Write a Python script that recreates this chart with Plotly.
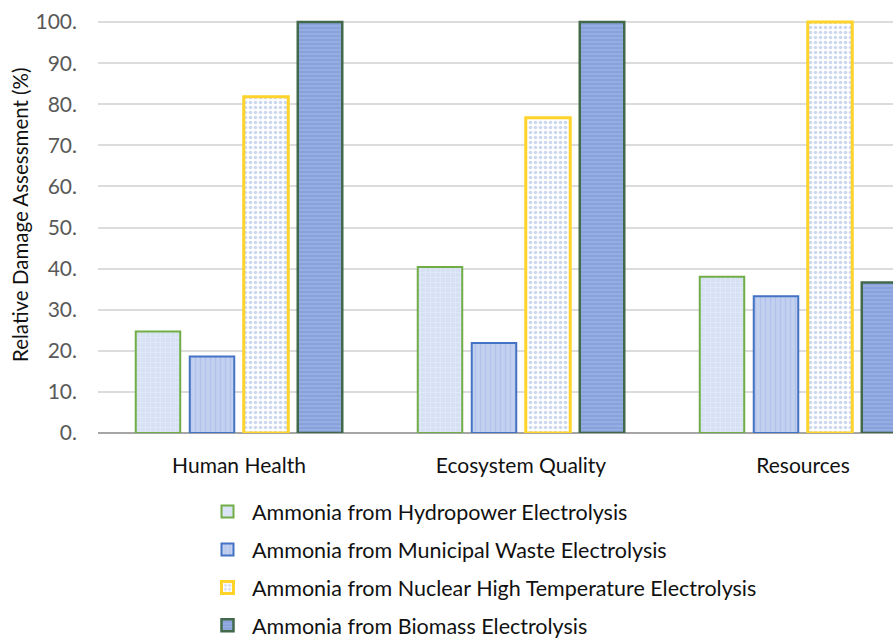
import plotly.graph_objects as go

categories = ["Human Health", "Ecosystem Quality", "Resources"]
series_names = [
    "Ammonia from Hydropower Electrolysis",
    "Ammonia from Municipal Waste Electrolysis",
    "Ammonia from Nuclear High Temperature Electrolysis",
    "Ammonia from Biomass Electrolysis",
]
hydropower = [24.7, 40.4, 38.0]
municipal = [18.6, 21.9, 33.3]
nuclear = [81.8, 76.7, 100.0]
biomass = [100.0, 100.0, 36.6]
values = [hydropower, municipal, nuclear, biomass]

y_tick_vals = [0, 10, 20, 30, 40, 50, 60, 70, 80, 90, 100]
y_tick_text = ["0.", "10.", "20.", "30.", "40.", "50.", "60.", "70.", "80.", "90.", "100."]
y_title = "Relative Damage Assessment (%)"

styles = [
    dict(color="#d7e1f4", line="#70ad47", lw=2, shape="+", fg="#f2f6fc", size=5, sol=0.25),
    dict(color="#c3d1f0", line="#4472c4", lw=2, shape="|", fg="#9fb5e4", size=5, sol=0.3),
    dict(color="#ffffff", line="#ffd42a", lw=3, shape=".", fg="#9ab2df", size=5, sol=0.4),
    dict(color="#88a2dc", line="#41694a", lw=2.5, shape="-", fg="#b0c1e9", size=4, sol=0.35),
]

fig = go.Figure()
for i, (name, vals, st) in enumerate(zip(series_names, values, styles)):
    fig.add_trace(go.Bar(
        x=categories, y=vals, name=name, legendgroup=f"g{i}",
        marker=dict(
            color=st["color"],
            line=dict(color=st["line"], width=st["lw"]),
            pattern=dict(shape=st["shape"], fgcolor=st["fg"], size=st["size"],
                         solidity=st["sol"], fillmode="overlay"),
        ),
        hoverinfo="skip",
    ))

L, R, T, B = 98, 0, 20, 206
cat_px = 282.0
plot_w = 893 - L - R
x_max = plot_w / cat_px - 0.5

fig.update_layout(
    width=893, height=639,
    margin=dict(l=L, r=R, t=T, b=B, pad=0, autoexpand=False),
    paper_bgcolor="white", plot_bgcolor="white",
    barmode="group", bargap=0.234, bargroupgap=0.176,
    font=dict(family="Lato", color="#111111"),
    showlegend=True,
    legend=dict(
        xref="container", yref="container",
        x=203 / 893, y=1 - 491 / 639, xanchor="left", yanchor="top",
        orientation="v", traceorder="grouped", tracegroupgap=7,
        itemwidth=39,
        font=dict(size=21.5, color="#111111", family="Lato"),
        bgcolor="rgba(0,0,0,0)",
    ),
    annotations=[dict(
        text=y_title, textangle=-90, showarrow=False,
        xref="paper", yref="paper",
        x=(20 - L) / plot_w, y=1 - (215 - T) / (639 - T - B),
        xanchor="center", yanchor="middle",
        font=dict(size=20.5, color="#111111", family="Lato"),
    )],
)
fig.update_xaxes(
    range=[-0.5, x_max], showgrid=False, showline=False, zeroline=False,
    ticks="", tickfont=dict(size=21, color="#111111", family="Lato"),
    ticklabelstandoff=18, tickangle=0, fixedrange=True,
)
fig.update_yaxes(
    range=[0, 100.5], tickvals=y_tick_vals, ticktext=y_tick_text,
    showgrid=True, gridcolor="#dcdcdc", gridwidth=2,
    zeroline=True, zerolinecolor="#a6a6a6", zerolinewidth=2,
    showline=False, ticks="",
    tickfont=dict(size=21, color="#595959", family="Lato"),
    ticklabelstandoff=20,
    fixedrange=True,
)

fig.write_html("out.html")
